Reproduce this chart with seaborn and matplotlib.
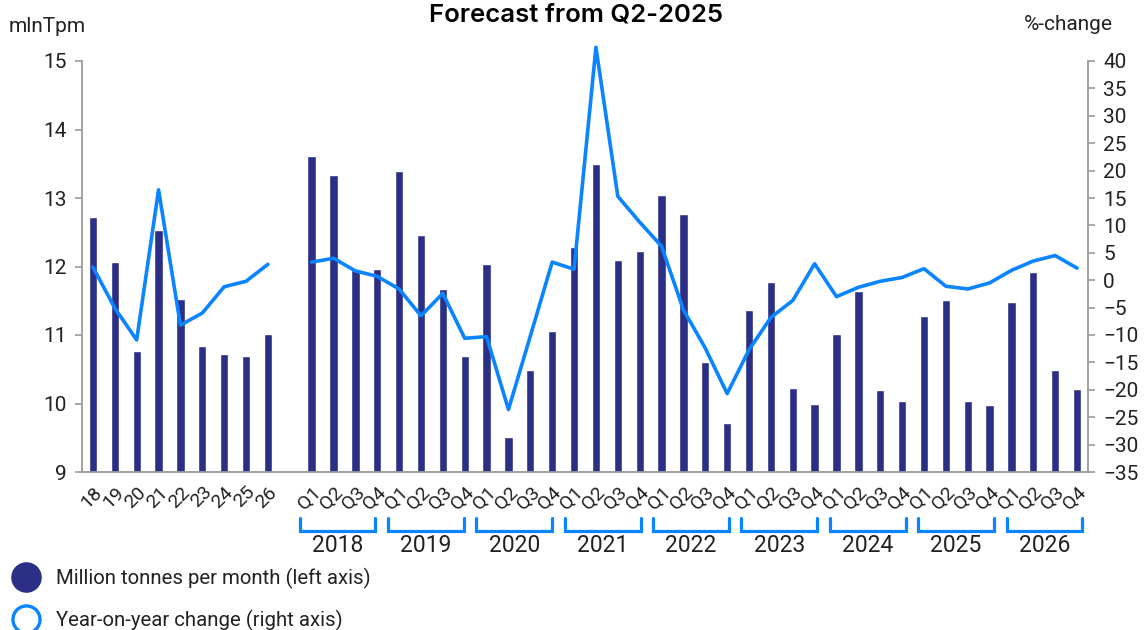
import numpy as np
import pandas as pd
import matplotlib
matplotlib.use("Agg")
import matplotlib.pyplot as plt
import seaborn as sns
from matplotlib.transforms import blended_transform_factory
from matplotlib.lines import Line2D

# ---------------- data ----------------
annual_labels = ["18", "19", "20", "21", "22", "23", "24", "25", "26"]
annual_volume = [12.72, 12.06, 10.77, 12.53, 11.53, 10.84, 10.72, 10.70, 11.02]
annual_yoy = [2.4, -5.1, -10.9, 16.5, -8.2, -6.0, -1.2, -0.2, 2.9]

years = ["2018", "2019", "2020", "2021", "2022", "2023", "2024", "2025", "2026"]
quarters = ["Q1", "Q2", "Q3", "Q4"]
quarterly_volume = [
    13.62, 13.34, 11.95, 11.96,   # 2018
    13.40, 12.46, 11.67, 10.69,   # 2019
    12.03, 9.51, 10.49, 11.06,    # 2020
    12.28, 13.50, 12.10, 12.23,   # 2021
    13.04, 12.76, 10.60, 9.71,    # 2022
    11.36, 11.78, 10.22, 9.99,    # 2023
    11.02, 11.64, 10.19, 10.03,   # 2024
    11.28, 11.51, 10.03, 9.98,    # 2025
    11.48, 11.92, 10.49, 10.21,   # 2026
]
quarterly_yoy = [
    3.3, 4.0, 1.7, 0.7,
    -1.6, -6.5, -2.4, -10.6,
    -10.3, -23.6, -10.2, 3.3,
    2.0, 42.5, 15.3, 10.6,
    6.2, -5.4, -12.4, -20.7,
    -12.7, -6.8, -3.7, 3.0,
    -3.0, -1.3, -0.2, 0.5,
    2.1, -1.1, -1.6, -0.5,
    1.8, 3.5, 4.5, 2.2,
]

left_ticks = [9, 10, 11, 12, 13, 14, 15]
right_ticks = list(range(-35, 41, 5))

# ---------------- table ----------------
n_a = len(annual_labels)
pos_a = list(range(n_a))
pos_q = [n_a + 1 + i for i in range(len(quarterly_volume))]
df = pd.DataFrame({
    "pos": pos_a + pos_q,
    "volume": annual_volume + quarterly_volume,
    "yoy": annual_yoy + quarterly_yoy,
    "seg": ["annual"] * n_a + ["quarterly"] * len(quarterly_volume),
})
tick_labels = annual_labels + quarters * len(years)

navy = "#2b2f86"
blue = "#0a84ff"
grey = "#9a9a9a"
txt = "#222222"

sns.set_theme(style="white")
plt.rcParams["font.family"] = ["Roboto", "DejaVu Sans"]

W, H = 1148, 630
fig = plt.figure(figsize=(W / 100, H / 100), dpi=100)
ax = fig.add_axes([82 / W, 1 - 472 / H, (1088 - 82) / W, (472 - 61) / H])

sns.barplot(data=df, x="pos", y="volume", native_scale=True, width=0.38,
            color=navy, saturation=1, errorbar=None, ax=ax)
ax.set_xlim(-0.5, df["pos"].max() + 0.5)
ax.set_ylim(9, 15)
ax.set_yticks(left_ticks)
ax.set_xticks(df["pos"])
ax.set_xticklabels(tick_labels, rotation=45, ha="right", va="top",
                   rotation_mode="anchor", fontsize=14, color=txt)
ax.set_xlabel("")
ax.set_ylabel("")

ax2 = ax.twinx()
sns.lineplot(data=df, x="pos", y="yoy", units="seg", estimator=None,
             color=blue, linewidth=2.6, ax=ax2)
for ln in ax2.lines:
    ln.set_clip_on(False)
ax2.set_ylim(-35, 40)
ax2.set_yticks(right_ticks)
ax2.set_ylabel("")
ax2.set_xlabel("")
ax2.set_xlim(ax.get_xlim())

for s in ["top", "right"]:
    ax.spines[s].set_visible(False)
for s in ["top", "left", "bottom"]:
    ax2.spines[s].set_visible(False)
for s in ["left", "bottom"]:
    ax.spines[s].set_color(grey)
    ax.spines[s].set_linewidth(1.3)
ax2.spines["right"].set_color(grey)
ax2.spines["right"].set_linewidth(1.3)

ax.tick_params(axis="y", left=True, length=5, width=1.2, color=grey,
               labelsize=15, labelcolor=txt, pad=6)
ax.tick_params(axis="x", bottom=True, length=0, pad=8)
ax2.tick_params(axis="y", right=True, length=5, width=1.2, color=grey,
                labelsize=15, labelcolor=txt, pad=6)

# year brackets under the quarter labels
trans = blended_transform_factory(ax.transData, fig.transFigure)
y_top = 1 - 518 / H
y_bot = 1 - 531 / H
for k, yr in enumerate(years):
    q1 = pos_q[4 * k]
    left = q1 - 0.55 + 0.041 * k
    right = left + 3.47
    ax.plot([left, left, right, right], [y_top, y_bot, y_bot, y_top],
            transform=trans, clip_on=False, color=blue, lw=2.3,
            solid_joinstyle="miter")
    ax.text((left + right) / 2, 1 - 545 / H, yr, transform=trans,
            ha="center", va="center", fontsize=16.5, color=txt)

# titles / axis captions
fig.text(576 / W, 1 - 15 / H, "Forecast from Q2-2025", ha="center",
         va="center", fontsize=18.5, fontweight="semibold",
         family=["Inter", "DejaVu Sans"], color="#000000")
fig.text(9 / W, 1 - 26 / H, "mlnTpm", ha="left", va="center",
         fontsize=15, color=txt)
fig.text(1113 / W, 1 - 24 / H, "%-change", ha="right", va="center",
         fontsize=15, color=txt)

# legend
handles = [
    Line2D([], [], ls="", marker="o", markersize=21, markerfacecolor=navy,
           markeredgecolor=navy),
    Line2D([], [], ls="", marker="o", markersize=19.5, markerfacecolor="white",
           markeredgecolor=blue, markeredgewidth=2.4),
]
labels = ["Million tonnes per month (left axis)", "Year-on-year change (right axis)"]
fig.legend(handles, labels, loc="upper left",
           bbox_to_anchor=(11 / W, 1 - 568 / H), frameon=False,
           fontsize=14.7, handlelength=1.5, handletextpad=0.72,
           labelspacing=1.0, borderpad=0, borderaxespad=0,
           labelcolor=txt)

fig.savefig("out.png", dpi=100)
